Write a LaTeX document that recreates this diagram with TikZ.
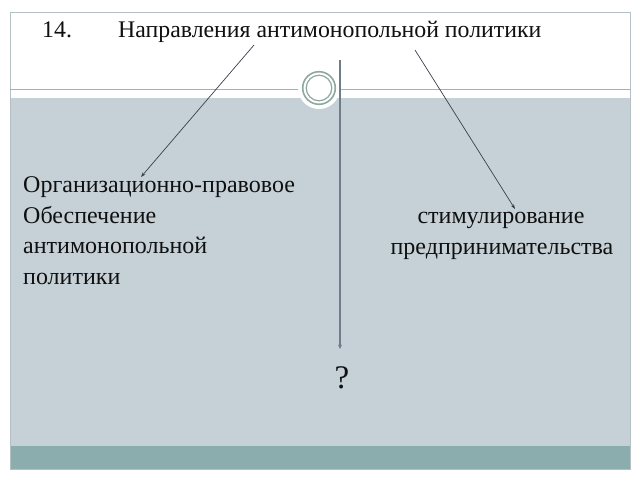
\documentclass[tikz,border=0pt]{standalone}
\usepackage{fontspec}
\setmainfont{Liberation Serif}
\usetikzlibrary{arrows.meta}
\definecolor{bodygrey}{HTML}{C6D1D7}
\definecolor{teal2}{HTML}{8BADAD}
\definecolor{framegrey}{HTML}{B4C0C4}
\definecolor{ringcol}{HTML}{8FA8A0}
\definecolor{linegrey}{HTML}{A3B1B6}
\definecolor{arrowdark}{HTML}{3A404A}
\definecolor{arrowmid}{HTML}{6F7C89}
\definecolor{txt}{HTML}{101010}
\tikzset{
  bodytext/.style={inner sep=0pt, text=txt, font=\fontsize{24}{29}\selectfont},
  titletext/.style={inner sep=0pt, text=txt, font=\fontsize{23.8}{29}\selectfont},
  qtext/.style={inner sep=0pt, text=txt, font=\fontsize{33}{38}\selectfont},
  thinarrow/.style={draw=arrowdark, line width=0.7pt, -{Stealth[length=5pt,width=3.5pt]}},
  midarrow/.style={draw=arrowmid, line width=1.1pt, -{Stealth[length=4.5pt,width=4pt]}},
}
\begin{document}
\begin{tikzpicture}[x=1pt,y=-1pt]
\useasboundingbox (0,0) rectangle (640,480);
\fill[white] (0,0) rectangle (640,480);
% body panels
\fill[bodygrey] (10,98) rectangle (630,446);
\fill[teal2] (10,446) rectangle (630,469);
\draw[framegrey, line width=1pt] (10,12) rectangle (630,469);
\draw[linegrey, line width=1pt] (10,89) -- (630,89);
% circle ornament
\fill[white] (319,88) circle (21);
\draw[ringcol, line width=1.6pt] (319,88) circle (16.3);
\draw[ringcol, line width=1.2pt] (319,88) circle (12.8);
% title
\node[titletext, anchor=base west] (num) at (42,37) {14.};
\node[titletext, anchor=base west] (title) at (118,37) {Направления антимонопольной политики};
% left block
\node[bodytext, anchor=base west] (l1) at (23,192) {Организационно-правовое};
\node[bodytext, anchor=base west] (l2) at (23,223) {Обеспечение};
\node[bodytext, anchor=base west] (l3) at (23,253) {антимонопольной};
\node[bodytext, anchor=base west] (l4) at (23,284) {политики};
% right block
\node[bodytext, anchor=base] (r1) at (501,223) {стимулирование};
\node[bodytext, anchor=base] (r2) at (502,254) {предпринимательства};
% question
\node[qtext, anchor=base] (q) at (342,388) {?};
% connector endpoints
\coordinate (ls) at (254,45);
\coordinate (le) at (141,177);
\coordinate (ms) at (340,60);
\coordinate (me) at (340,349);
\coordinate (rs) at (415,50);
\coordinate (re) at (515,209);
\draw[thinarrow] (ls) -- (le);
\draw[midarrow] (ms) -- (me);
\draw[thinarrow] (rs) -- (re);
\end{tikzpicture}
\end{document}
